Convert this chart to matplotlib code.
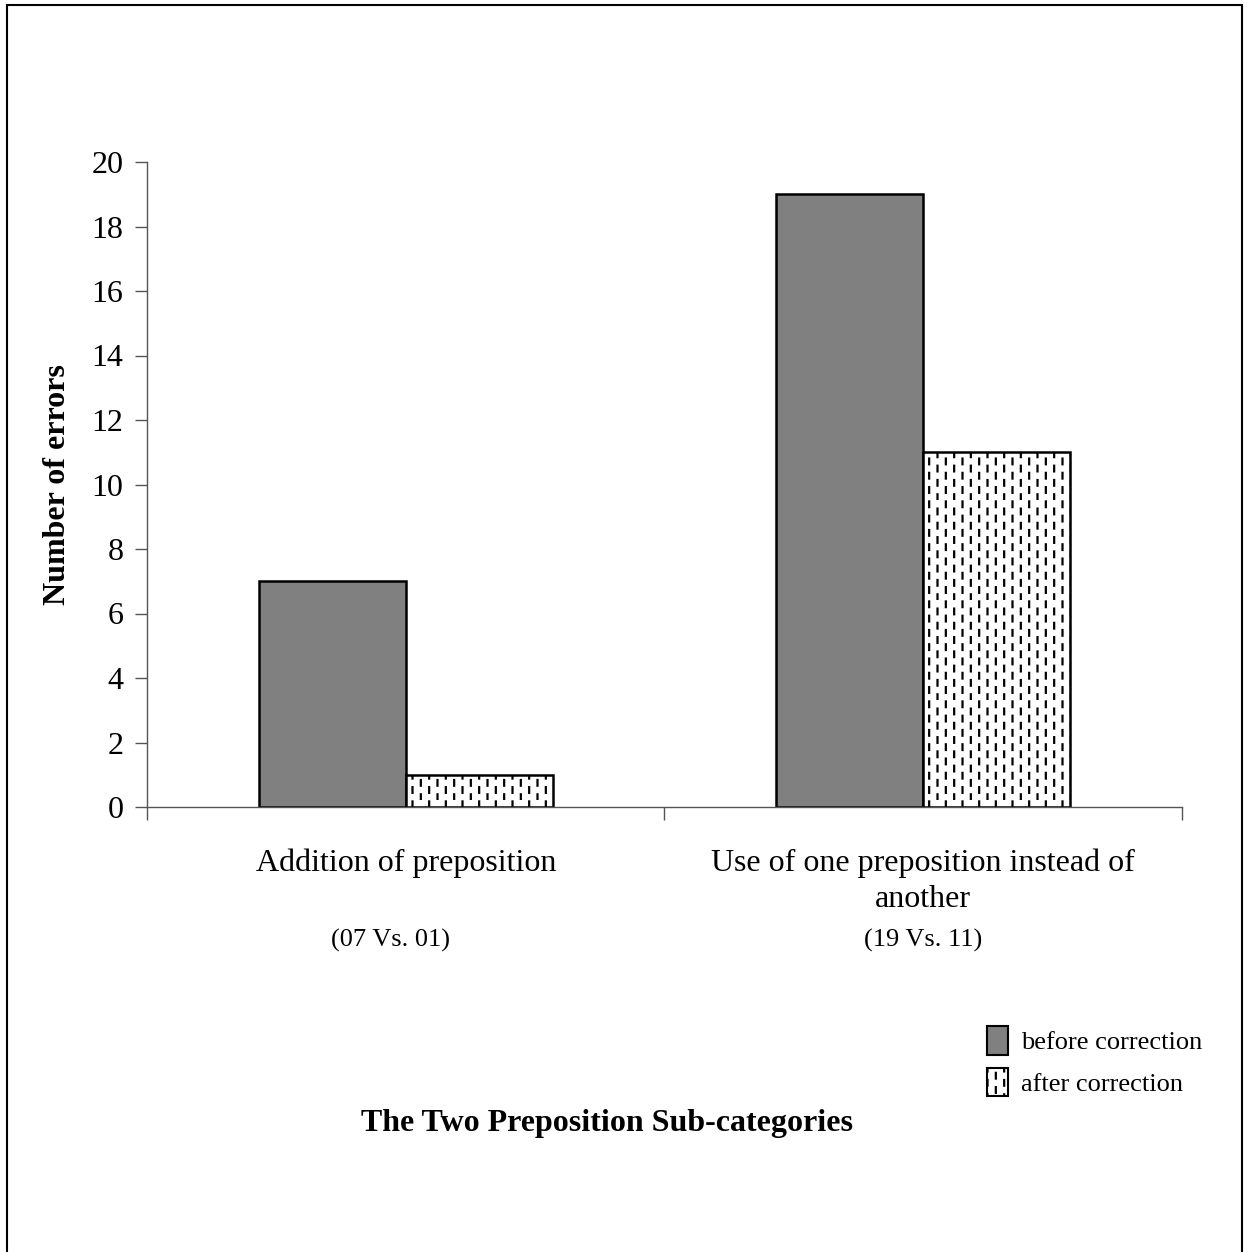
import numpy as np
import matplotlib
matplotlib.use('Agg')
import matplotlib.pyplot as plt
from matplotlib import hatch as mhatch
from matplotlib.patches import Rectangle, Patch

# data
categories = ['Addition of preposition', 'Use of one preposition instead of\nanother']
notes = ['(07 Vs. 01)', '(19 Vs. 11)']
before = [7, 19]
after = [1, 11]
yticks = [0, 2, 4, 6, 8, 10, 12, 14, 16, 18, 20]


# short staggered vertical dashes instead of full '|' lines (like the original fill)
class DashedVertical(mhatch.HatchPatternBase):
    def __init__(self, hatch, density):
        self.num_cols = hatch.count('|') * 12
        self.num_dashes = 7
        self.num_vertices = self.num_cols * self.num_dashes * 2

    def set_vertices_and_codes(self, vertices, codes):
        k = 0
        for i in range(self.num_cols):
            x = (i + 0.5) / self.num_cols
            off = 0.5 if i % 2 else 0.0
            for j in range(self.num_dashes):
                y0 = (j + off) / self.num_dashes
                y1 = y0 + 0.4 / self.num_dashes
                vertices[k] = [x, y0]
                vertices[k + 1] = [x, y1]
                codes[k] = 1
                codes[k + 1] = 2
                k += 2


mhatch._hatch_types = [h for h in mhatch._hatch_types if h is not mhatch.VerticalHatch]
mhatch._hatch_types.append(DashedVertical)

plt.rcParams['font.family'] = ['Liberation Serif', 'DejaVu Serif']
plt.rcParams['hatch.linewidth'] = 1.6

fig = plt.figure(figsize=(12.47, 12.52), dpi=100)
ax = fig.add_axes([147 / 1247, 445 / 1252, 1035 / 1247, 645 / 1252])

x = np.arange(len(categories))
w = 0.284
ax.bar(x - w, before, width=w, align='edge', color='#808080', edgecolor='black', linewidth=1.8)
ax.bar(x, after, width=w, align='edge', color='white', edgecolor='black', linewidth=1.8, hatch='|')

ax.set_xlim(-0.5, 1.5)
ax.set_ylim(0, 20)
ax.set_yticks(yticks)
ax.tick_params(axis='y', labelsize=23, length=9, width=1, color='#555555', pad=8)
ax.set_xticks([-0.5, 0.5, 1.5])
ax.set_xticklabels([])
ax.tick_params(axis='x', which='major', length=9, width=1, color='#555555')
ax.set_xticks(x, minor=True)
ax.set_xticklabels(categories, minor=True, fontsize=23, linespacing=1.3)
ax.tick_params(axis='x', which='minor', length=0, pad=30)

for s in ['top', 'right']:
    ax.spines[s].set_visible(False)
for s in ['left', 'bottom']:
    ax.spines[s].set_color('#555555')
    ax.spines[s].set_linewidth(1)

ax.set_ylabel('Number of errors', fontsize=23, fontweight='bold', labelpad=14)

for xi, nt in zip([-0.03, 1.0], notes):
    ax.text(xi, -0.207, nt, transform=ax.get_xaxis_transform(), ha='center', va='center', fontsize=19)

handles = [Patch(facecolor='#808080', edgecolor='black', linewidth=1.5),
           Patch(facecolor='white', edgecolor='black', linewidth=1.5, hatch='|')]
fig.legend(handles, ['before correction', 'after correction'], loc='upper left',
           bbox_to_anchor=(963 / 1247, 1 - 1002 / 1252), frameon=False, fontsize=19,
           handlelength=0.8, handleheight=1.3, handletextpad=0.5, labelspacing=0.5)

fig.text(607 / 1247, 1 - 1123 / 1252, 'The Two Preposition Sub-categories',
         ha='center', va='center', fontsize=23, fontweight='bold')

fig.add_artist(Rectangle((7 / 1247, -0.01), 1235 / 1247, 1.01 - 5 / 1252,
                         transform=fig.transFigure, fill=False, edgecolor='black', linewidth=1.5))

fig.savefig('out.png', dpi=100)
